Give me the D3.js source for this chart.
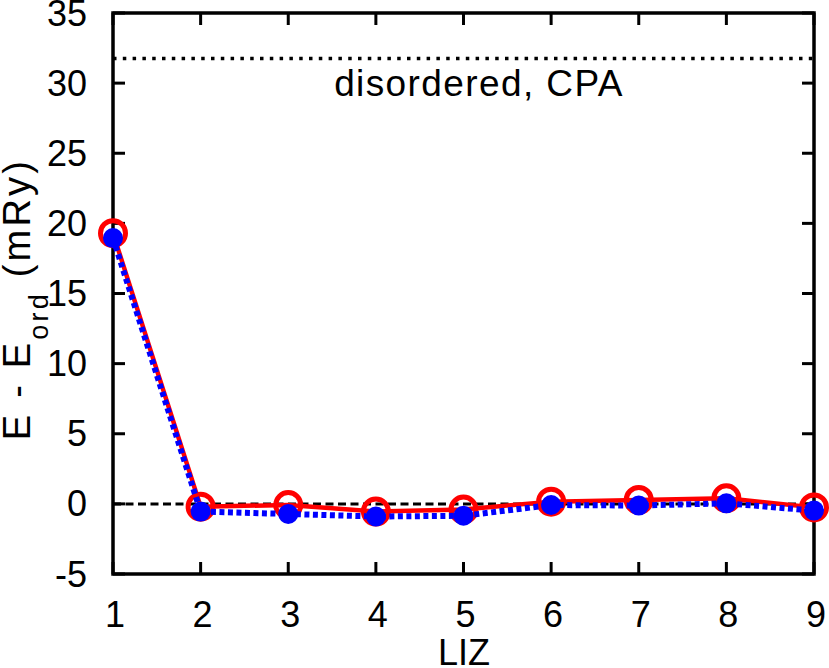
<!DOCTYPE html>
<html>
<head>
<meta charset="utf-8">
<script src="https://cdn.jsdelivr.net/npm/d3@7"></script>
<style>
  body { margin: 0; background: #fff; }
  text { font-family: "Liberation Sans", Arial, sans-serif; }
</style>
</head>
<body>
<div id="chart"></div>
<script>
// Data
const liz = [1, 2, 3, 4, 5, 6, 7, 8, 9];
const eRed = [19.3, -0.2, -0.08, -0.55, -0.4, 0.16, 0.28, 0.4, -0.25];
const eBlue = [18.95, -0.55, -0.72, -0.9, -0.85, -0.08, -0.12, 0.04, -0.48];
const cpaLevel = 31.75;
const xTicks = [1, 2, 3, 4, 5, 6, 7, 8, 9];
const yTicks = [-5, 0, 5, 10, 15, 20, 25, 30, 35];

// Dimensions
const width = 829;
const height = 668;
const margin = { top: 13, right: 15, bottom: 94, left: 113 };

const svg = d3.select("#chart").append("svg")
  .attr("width", width)
  .attr("height", height);

// Scales
const x = d3.scaleLinear()
  .domain([1, 9])
  .range([margin.left, width - margin.right]);

const y = d3.scaleLinear()
  .domain([-5, 35])
  .range([height - margin.bottom, margin.top]);

const x0 = margin.left, x1 = width - margin.right;
const y0 = height - margin.bottom, y1 = margin.top;

// Reference lines
svg.append("line")
  .attr("x1", x0).attr("x2", x1)
  .attr("y1", y(0)).attr("y2", y(0))
  .attr("stroke", "black")
  .attr("stroke-width", 3)
  .attr("stroke-dasharray", "8,4.5");

svg.append("line")
  .attr("x1", x0).attr("x2", x1)
  .attr("y1", y(cpaLevel)).attr("y2", y(cpaLevel))
  .attr("stroke", "black")
  .attr("stroke-width", 3.5)
  .attr("stroke-dasharray", "3.5,6.3");

svg.append("text")
  .attr("x", 479)
  .attr("y", 96)
  .attr("text-anchor", "middle")
  .attr("font-size", 37)
  .style("letter-spacing", "1.4px")
  .text("disordered, CPA");

// Ticks (mirrored, inward)
const tickLen = 12;
const ticks = svg.append("g").attr("stroke", "black").attr("stroke-width", 3);
xTicks.forEach(t => {
  ticks.append("line").attr("x1", x(t)).attr("x2", x(t)).attr("y1", y0).attr("y2", y0 - tickLen);
  ticks.append("line").attr("x1", x(t)).attr("x2", x(t)).attr("y1", y1).attr("y2", y1 + tickLen);
});
yTicks.forEach(t => {
  ticks.append("line").attr("x1", x0).attr("x2", x0 + tickLen).attr("y1", y(t)).attr("y2", y(t));
  ticks.append("line").attr("x1", x1).attr("x2", x1 - tickLen).attr("y1", y(t)).attr("y2", y(t));
});

// Tick labels
svg.append("g").selectAll("text")
  .data(xTicks)
  .enter()
  .append("text")
    .attr("x", d => x(d) + 2)
    .attr("y", 627)
    .attr("text-anchor", "middle")
    .attr("font-size", 36)
    .text(d => d);

svg.append("g").selectAll("text")
  .data(yTicks)
  .enter()
  .append("text")
    .attr("x", 87)
    .attr("y", d => y(d) + 12.5)
    .attr("text-anchor", "end")
    .attr("font-size", 36)
    .text(d => d);

// Axis labels
svg.append("text")
  .attr("x", 464)
  .attr("y", 665)
  .attr("text-anchor", "middle")
  .attr("font-size", 36)
  .text("LIZ");

const yLabel = svg.append("text")
  .attr("transform", `translate(30, 299) rotate(-90)`)
  .attr("text-anchor", "middle")
  .attr("font-size", 38)
  .style("letter-spacing", "3.2px");
yLabel.append("tspan").text("E - E");
yLabel.append("tspan").attr("font-size", 27).attr("dy", 18).text("ord");
yLabel.append("tspan").attr("dy", -18).text(" (mRy)");

// Frame
svg.append("rect")
  .attr("x", x0).attr("y", y1)
  .attr("width", x1 - x0).attr("height", y0 - y1)
  .attr("fill", "none")
  .attr("stroke", "black")
  .attr("stroke-width", 3.5);

// Series
const redData = liz.map((d, i) => ({ x: d, y: eRed[i] }));
const blueData = liz.map((d, i) => ({ x: d, y: eBlue[i] }));

const line = d3.line()
  .x(d => x(d.x))
  .y(d => y(d.y));

svg.append("path")
  .datum(redData)
  .attr("fill", "none")
  .attr("stroke", "red")
  .attr("stroke-width", 4.5)
  .attr("d", line);

svg.selectAll("circle.red")
  .data(redData)
  .enter()
  .append("circle")
    .attr("class", "red")
    .attr("cx", d => x(d.x))
    .attr("cy", d => y(d.y))
    .attr("r", 12.5)
    .attr("fill", "none")
    .attr("stroke", "red")
    .attr("stroke-width", 5);

svg.append("path")
  .datum(blueData)
  .attr("fill", "none")
  .attr("stroke", "blue")
  .attr("stroke-width", 6)
  .attr("stroke-dasharray", "5,3.5")
  .attr("d", line);

svg.selectAll("circle.blue")
  .data(blueData)
  .enter()
  .append("circle")
    .attr("class", "blue")
    .attr("cx", d => x(d.x))
    .attr("cy", d => y(d.y))
    .attr("r", 10)
    .attr("fill", "blue");
</script>
</body>
</html>
